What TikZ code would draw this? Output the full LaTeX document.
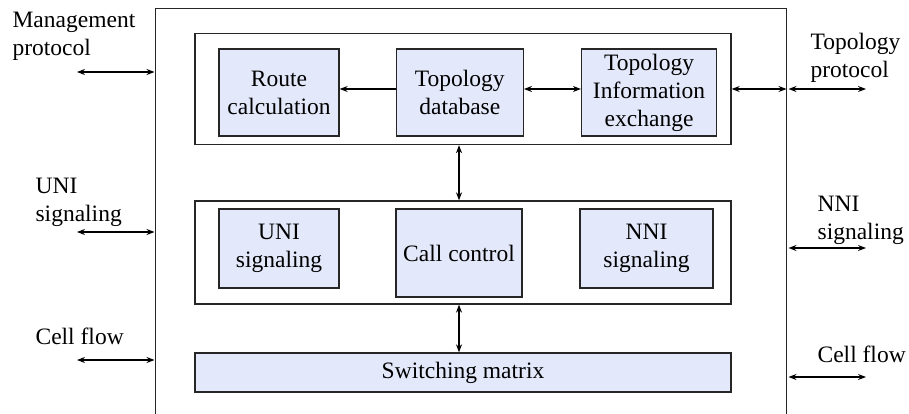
\documentclass[tikz,border=0pt]{standalone}
\usepackage{fontspec}
\setmainfont{Liberation Serif}
\usepackage{tikz}
\usetikzlibrary{arrows,arrows.meta,positioning}
\definecolor{boxblue}{RGB}{227,232,250}

\begin{document}
\begin{tikzpicture}[<->,>={Stealth[length=8pt,width=6pt]},x=1pt,y=-1pt,
  line width=1.2pt,font=\fontsize{23.5}{28}\selectfont,
  frame/.style={rectangle,draw=black!85,line width=1.3pt,inner sep=0pt},
  blk/.style={frame,fill=boxblue,align=center},
  lbl/.style={anchor=north west,align=left,inner sep=0pt}]
    \useasboundingbox (0,0) rectangle (909,414);
    % outer node
    \node[frame,line width=1pt,minimum width=631pt,minimum height=411pt] (sys) at (470.5,214.5) {};
    % routing part
    \node[frame,minimum width=536pt,minimum height=111pt] (topo) at (463,89) {};
    \node[blk,minimum width=120pt,minimum height=87pt] (route) at (279,92.5) {Route\\calculation};
    \node[blk,minimum width=127pt,minimum height=87pt] (tdb) [right = 56pt of route] {Topology\\database};
    \node[blk,minimum width=135pt,minimum height=87pt] (tie) [right = 57pt of tdb] {Topology\\Information\\exchange};
    % signaling part
    \node[frame,minimum width=536pt,minimum height=103pt] (ctrl) at (463,252.5) {};
    \node[blk,minimum width=120pt,minimum height=79pt] (uni) at (279,248.5) {UNI\\signaling};
    \node[blk,minimum width=126pt,minimum height=88pt] (call) at (459,253) {Call control};
    \node[blk,minimum width=133pt,minimum height=79pt] (nni) at (646.5,248.5) {NNI\\signaling};
    \node[blk,minimum width=536pt,minimum height=39pt] (sw) at (463,372.5) {Switching matrix};
    % interfaces
    \node[lbl] (mgmt) at (12,12) {Management\\protocol};
    \node[lbl] (unilbl) at (35,177.5) {UNI\\signaling};
    \node[lbl] (cellin) at (35,327.5) {Cell flow};
    \node[lbl] (topolbl) at (810,32.5) {Topology\\protocol};
    \node[lbl] (nnilbl) at (817,195.5) {NNI\\signaling};
    \node[lbl] (cellout) at (817,345.5) {Cell flow};
    \coordinate (mgmtend) at (77,72);
    \coordinate (uniend) at (77,232);
    \coordinate (cellinend) at (77,360);
    \coordinate (topoend) at (866,89);
    \coordinate (nniend) at (866,248);
    \coordinate (celloutend) at (866,377);
    \path ([yshift=3.5pt]tdb.west) edge[->] ([yshift=3.5pt]route.east)
    ([yshift=3.5pt]tdb.east) edge ([yshift=3.5pt]tie.west)
    (topo.east) edge (topo.east -| sys.east)
    (call |- topo.south) edge (call |- ctrl.north)
    (call |- ctrl.south) edge (call |- sw.north)
    (mgmtend) edge (mgmtend -| sys.west)
    (uniend) edge (uniend -| sys.west)
    (cellinend) edge (cellinend -| sys.west)
    ([xshift=2pt]topoend -| sys.east) edge (topoend)
    ([xshift=2pt]nniend -| sys.east) edge (nniend)
    ([xshift=2pt]celloutend -| sys.east) edge (celloutend);
\end{tikzpicture}
\end{document}
